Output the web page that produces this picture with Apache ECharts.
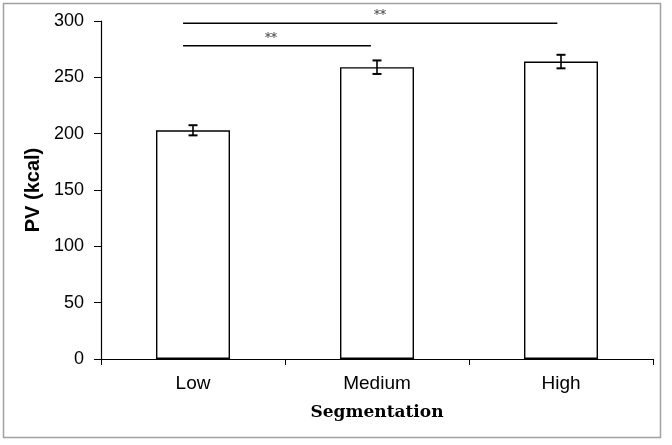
<!DOCTYPE html>
<html><head><meta charset="utf-8">
<script src="https://cdn.jsdelivr.net/npm/echarts@6/dist/echarts.min.js"></script>
<style>html,body{margin:0;padding:0;background:#fff}#c{width:672px;height:445px}</style>
</head><body><div id="c"></div>
<script>
var categories = ['Low', 'Medium', 'High'];
var values = [203, 259, 264];
var errors = [4.5, 6, 6];
var yTicks = [0, 50, 100, 150, 200, 250, 300];
// significance brackets: [xStart, xEnd, y, labelX, label] in category units (0..3)
var sigLines = [[0.446, 2.48, 298, 1.516, '**'], [0.446, 1.467, 278, 0.924, '**']];

var chart = echarts.init(document.getElementById('c'));
var black = '#000';
chart.setOption({
  animation: false,
  grid: {left: 101, right: 19, top: 21, bottom: 86},
  graphic: [{type: 'rect', shape: {x: 3.5, y: 3.5, width: 657, height: 434}, style: {fill: 'none', stroke: '#a0a0a0', lineWidth: 1.5}, z: -1}],
  xAxis: [{
    type: 'category', data: categories,
    axisLine: {lineStyle: {color: black, width: 1.2}},
    axisTick: {show: true, length: 6, lineStyle: {color: black}},
    axisLabel: {color: black, fontFamily: 'Liberation Sans', fontSize: 19, margin: 15},
    name: 'Segmentation', nameLocation: 'middle', nameGap: 45,
    nameTextStyle: {color: black, fontFamily: 'DejaVu Serif', fontWeight: 'bold', fontSize: 17}
  }, {
    type: 'value', min: 0, max: 3, show: false
  }],
  yAxis: {
    type: 'value', min: 0, max: 300, interval: 50,
    axisLine: {show: true, lineStyle: {color: black, width: 1.2}},
    axisTick: {show: true, length: 7, lineStyle: {color: black}},
    splitLine: {show: false},
    axisLabel: {color: black, fontFamily: 'Liberation Sans', fontSize: 18, margin: 17,
      formatter: function (v) { return yTicks.indexOf(v) >= 0 ? String(v) : ''; }},
    name: 'PV (kcal)', nameLocation: 'middle', nameGap: 58, nameRotate: 90,
    nameTextStyle: {color: black, fontFamily: 'Liberation Sans', fontWeight: 'bold', fontSize: 20}
  },
  series: [{
    type: 'bar', data: values, xAxisIndex: 0, barWidth: 74,
    itemStyle: {color: '#fff', borderColor: black, borderWidth: 1.4}
  }, {
    type: 'custom', xAxisIndex: 0, z: 5,
    data: values.map(function (v, i) { return [i, v - errors[i], v + errors[i]]; }),
    renderItem: function (params, api) {
      var lo = api.coord([api.value(0), api.value(1)]);
      var hi = api.coord([api.value(0), api.value(2)]);
      var w = 4.5;
      var st = {stroke: black, lineWidth: 1.6};
      return {type: 'group', children: [
        {type: 'line', shape: {x1: lo[0], y1: lo[1], x2: hi[0], y2: hi[1]}, style: st},
        {type: 'line', shape: {x1: lo[0] - w, y1: lo[1], x2: lo[0] + w, y2: lo[1]}, style: {stroke: black, lineWidth: 2}},
        {type: 'line', shape: {x1: hi[0] - w, y1: hi[1], x2: hi[0] + w, y2: hi[1]}, style: {stroke: black, lineWidth: 2}}
      ]};
    }
  }, {
    type: 'custom', xAxisIndex: 1, z: 5,
    data: sigLines.map(function (s) { return [s[0], s[1], s[2], s[3]]; }),
    renderItem: function (params, api) {
      var a = api.coord([api.value(0), api.value(2)]);
      var b = api.coord([api.value(1), api.value(2)]);
      var t = api.coord([api.value(3), api.value(2)]);
      var lbl = sigLines[params.dataIndex][4];
      return {type: 'group', children: [
        {type: 'line', shape: {x1: a[0], y1: a[1], x2: b[0], y2: b[1]}, style: {stroke: black, lineWidth: 1.6}},
        {type: 'text', x: t[0], y: a[1] - 1,
          style: {text: lbl, fill: '#333', font: '12px "DejaVu Serif"', textAlign: 'center', textVerticalAlign: 'bottom'}}
      ]};
    }
  }]
});
</script></body></html>
